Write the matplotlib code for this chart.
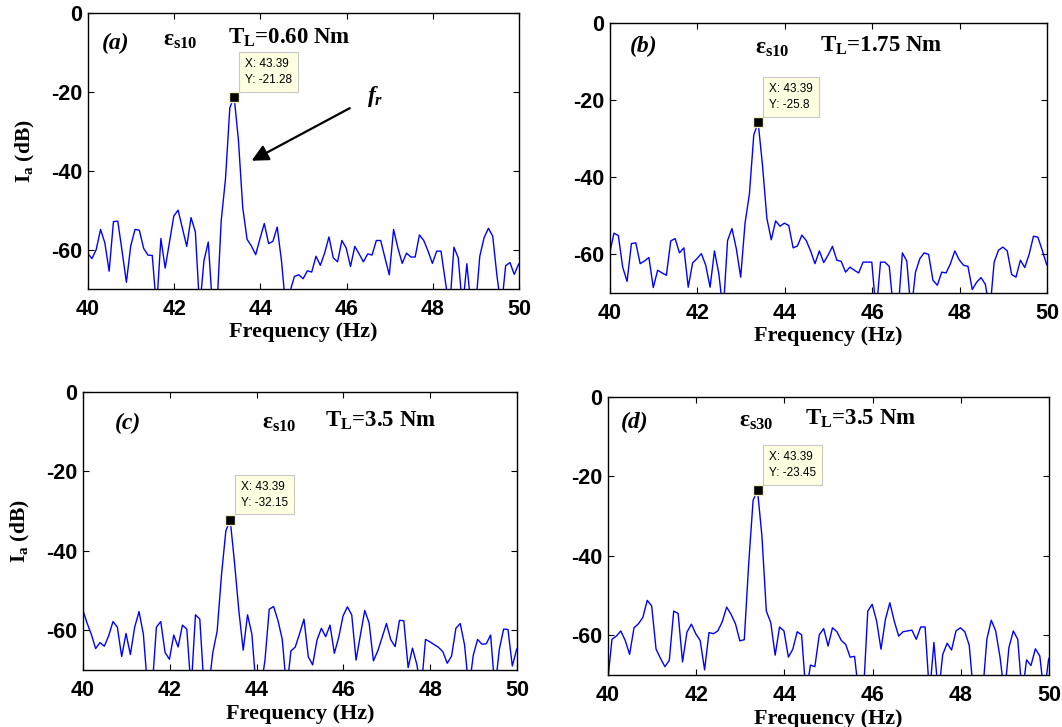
import numpy as np
import matplotlib
matplotlib.use("Agg")
import matplotlib.pyplot as plt

plt.rcParams['font.family'] = ['Liberation Sans', 'DejaVu Sans']
plt.rcParams['axes.unicode_minus'] = False
plt.rcParams['mathtext.fontset'] = 'custom'
plt.rcParams['mathtext.rm'] = 'Liberation Serif:bold'
plt.rcParams['mathtext.bf'] = 'Liberation Serif:bold'
plt.rcParams['mathtext.it'] = 'Liberation Serif:bold:italic'

# FFT bin grid (Hz): first bin and spacing
f_start = 39.99
f_step = 0.10

# Spectrum magnitudes (dB), one value per bin; values below -70 leave the axes
ia_a = [-60.9, -62.3, -60.0, -54.9, -58.3, -65.5, -52.9, -52.8, -60.4, -68.3,
        -59.1, -54.9, -55.1, -59.7, -61.4, -61.5, -75.0, -57.2, -64.7, -58.1,
        -51.5, -50.0, -54.6, -59.2, -51.9, -55.5, -75.0, -62.8, -58.1, -75.0,
        -75.0, -52.7, -42.0, -24.0, -21.28, -32.3, -49.4, -57.4, -59.1, -61.3,
        -57.2, -53.4, -58.5, -57.9, -54.3, -63.0, -75.0, -70.5, -66.8, -66.4,
        -67.4, -65.4, -65.7, -61.7, -64.0, -60.9, -56.8, -62.1, -63.1, -57.7,
        -59.6, -64.3, -59.2, -61.1, -63.1, -61.1, -61.4, -57.7, -57.7, -62.1,
        -66.4, -54.9, -59.6, -63.5, -60.9, -61.9, -61.9, -56.3, -57.7, -60.4,
        -63.5, -60.4, -60.4, -68.0, -75.0, -59.4, -62.1, -75.0, -63.6, -75.0,
        -75.0, -61.7, -57.0, -54.6, -56.6, -66.8, -75.0, -64.1, -63.3, -66.3,
        -63.7, -63.0]

ia_b = [-59.8, -54.5, -55.1, -63.3, -67.0, -57.2, -57.0, -62.4, -61.7, -60.8,
        -68.6, -64.1, -64.8, -65.4, -56.5, -55.9, -59.6, -58.3, -68.5, -62.2,
        -61.1, -59.8, -62.8, -68.5, -59.1, -65.0, -75.0, -56.4, -53.3, -58.5,
        -65.9, -51.9, -44.3, -29.0, -25.8, -37.0, -50.7, -56.2, -51.3, -52.7,
        -51.9, -52.5, -58.3, -57.8, -55.0, -56.4, -59.1, -62.4, -59.1, -62.1,
        -60.2, -57.9, -61.5, -61.8, -64.6, -63.3, -64.1, -64.8, -62.0, -62.0,
        -62.0, -75.0, -62.0, -62.0, -63.1, -75.0, -75.0, -59.6, -61.7, -75.0,
        -64.6, -61.1, -59.6, -60.0, -66.7, -68.0, -64.6, -64.8, -62.4, -59.1,
        -61.4, -62.8, -63.1, -69.1, -67.2, -66.0, -67.8, -75.0, -62.0, -58.9,
        -58.1, -59.1, -65.2, -65.9, -61.5, -63.4, -60.0, -55.3, -55.5, -58.9,
        -62.6, -64.0]

ia_c = [-54.7, -58.1, -61.0, -64.6, -63.1, -64.0, -61.4, -57.8, -59.2, -66.6,
        -60.8, -66.1, -59.2, -55.3, -61.0, -75.0, -75.0, -59.2, -57.8, -65.6,
        -67.3, -61.2, -64.2, -58.7, -59.7, -75.0, -56.1, -57.2, -75.0, -75.0,
        -65.6, -60.2, -46.0, -35.0, -32.15, -43.0, -55.1, -65.0, -56.1, -61.0,
        -75.0, -75.0, -67.7, -54.7, -54.0, -57.5, -62.3, -75.0, -65.2, -64.2,
        -60.8, -57.2, -66.7, -68.7, -62.5, -59.5, -61.6, -58.7, -65.8, -61.8,
        -56.4, -54.1, -56.1, -67.5, -61.2, -55.0, -58.1, -67.7, -65.2, -61.8,
        -58.3, -62.4, -64.1, -57.5, -57.6, -69.4, -64.5, -68.6, -75.0, -62.3,
        -62.9, -63.6, -64.3, -65.4, -68.3, -66.5, -59.5, -58.3, -63.7, -75.0,
        -66.3, -62.3, -63.5, -63.4, -61.2, -75.0, -64.8, -59.7, -59.8, -69.0,
        -64.8, -63.0]

ia_d = [-72.0, -61.0, -60.2, -58.9, -61.3, -64.8, -58.1, -57.1, -55.5, -51.2,
        -52.6, -63.5, -65.8, -67.9, -66.3, -53.9, -54.5, -66.7, -59.2, -57.2,
        -59.6, -61.3, -68.7, -59.3, -59.6, -58.9, -56.6, -52.9, -54.7, -57.1,
        -61.4, -61.1, -42.0, -26.0, -23.45, -35.0, -53.9, -56.8, -65.0, -57.9,
        -58.9, -65.5, -63.5, -59.1, -59.9, -75.0, -67.5, -67.9, -59.9, -58.3,
        -62.7, -58.1, -59.1, -61.3, -62.3, -65.5, -65.3, -75.0, -75.0, -53.9,
        -52.2, -56.4, -63.5, -56.0, -51.8, -56.4, -60.2, -59.1, -58.9, -58.7,
        -61.0, -57.9, -57.9, -75.0, -61.8, -75.0, -64.8, -62.0, -63.7, -58.9,
        -58.1, -59.1, -62.5, -75.0, -75.0, -75.0, -61.0, -56.2, -58.9, -65.6,
        -75.0, -63.1, -58.9, -61.0, -75.0, -66.2, -67.6, -63.4, -65.2, -75.0,
        -66.0, -64.0]

series = [ia_a, ia_b, ia_c, ia_d]
panel_tags = ['(a)', '(b)', '(c)', '(d)']
eps_labels = ['s10', 's10', 's10', 's30']
load_labels = ['0.60', '1.75', '3.5', '3.5']
peak_x = [43.39, 43.39, 43.39, 43.39]
peak_y = [-21.28, -25.8, -32.15, -23.45]
x_ticks = [40, 42, 44, 46, 48, 50]
y_ticks = [0, -20, -40, -60]

# layout (figure fractions) and text anchors (data coords)
axes_rect = [[0.0829, 0.6025, 0.4058, 0.3796],
             [0.5744, 0.5970, 0.4115, 0.3714],
             [0.0782, 0.0784, 0.4087, 0.3824],
             [0.5725, 0.0715, 0.4153, 0.3824]]
tag_pos = [(40.65, -7.6), (40.76, -6.2), (41.04, -7.8), (40.61, -6.3)]
eps_pos = [(41.74, -6.8), (43.32, -6.5), (44.13, -7.8), (42.97, -6.0)]
tl_pos = [(43.25, -6.3), (44.80, -6.0), (45.58, -7.3), (44.47, -5.5)]

fig = plt.figure(figsize=(10.62, 7.27), dpi=100)
serif = ['Liberation Serif', 'DejaVu Serif']

for i in range(4):
    ax = fig.add_axes(axes_rect[i])
    y = np.array(series[i])
    freq = f_start + f_step * np.arange(len(y))
    ax.plot(freq, y, color='#0000ff', lw=1.0)
    ax.set_xlim(40, 50)
    ax.set_ylim(-70, 0)
    ax.set_xticks(x_ticks)
    ax.set_yticks(y_ticks)
    ax.tick_params(direction='in', top=True, right=True, length=4, width=0.8,
                   labelsize=15.5)
    ax.tick_params(axis='x', pad=7)
    ax.tick_params(axis='y', pad=4)
    for lab in ax.get_xticklabels() + ax.get_yticklabels():
        lab.set_fontweight('bold')
    for sp in ax.spines.values():
        sp.set_linewidth(1.0)
    ax.set_xlabel('Frequency (Hz)', fontsize=16, fontweight='bold',
                  family=serif, labelpad=2)
    if i in (0, 2):
        ax.set_ylabel(r'$\mathbf{I_a}$ (dB)', fontsize=15.5, fontweight='bold',
                      family=serif, labelpad=10)

    ax.text(*tag_pos[i], panel_tags[i], fontsize=17, fontweight='bold',
            fontstyle='italic', family=serif, ha='center', va='center')
    ax.text(*eps_pos[i], r'$\mathbf{ε_{%s}}$' % eps_labels[i], fontsize=17,
            ha='left', va='center')
    ax.text(*tl_pos[i], r'$\mathbf{T_L}$=%s Nm' % load_labels[i], fontsize=16.5,
            fontweight='bold', family=serif, ha='left', va='center')

    # data tip
    ax.plot([peak_x[i]], [peak_y[i]], marker='s', ms=7, color='black',
            mec='#f5f0c0', mew=1.0, zorder=5)
    ax.annotate('X: %.2f\nY: %s' % (peak_x[i], ('%g' % peak_y[i])),
                xy=(peak_x[i], peak_y[i]), xytext=(8, 8),
                textcoords='offset points', ha='left', va='bottom',
                fontsize=8.5, family=['Liberation Sans'], fontweight='normal',
                linespacing=1.45,
                bbox=dict(boxstyle='square,pad=0.5', fc='#ffffe1',
                          ec='#c8c8c8', lw=0.8), zorder=6)

    if i == 0:
        ax.annotate('', xy=(43.74, -37.8), xytext=(46.13, -23.8),
                    arrowprops=dict(arrowstyle='-|>,head_length=1.0,head_width=0.5',
                                    color='black', lw=1.6))
        ax.text(46.66, -21.3, r'$f_r$', fontsize=17, ha='center', va='center')

fig.savefig('out.png', dpi=100, facecolor='white')
